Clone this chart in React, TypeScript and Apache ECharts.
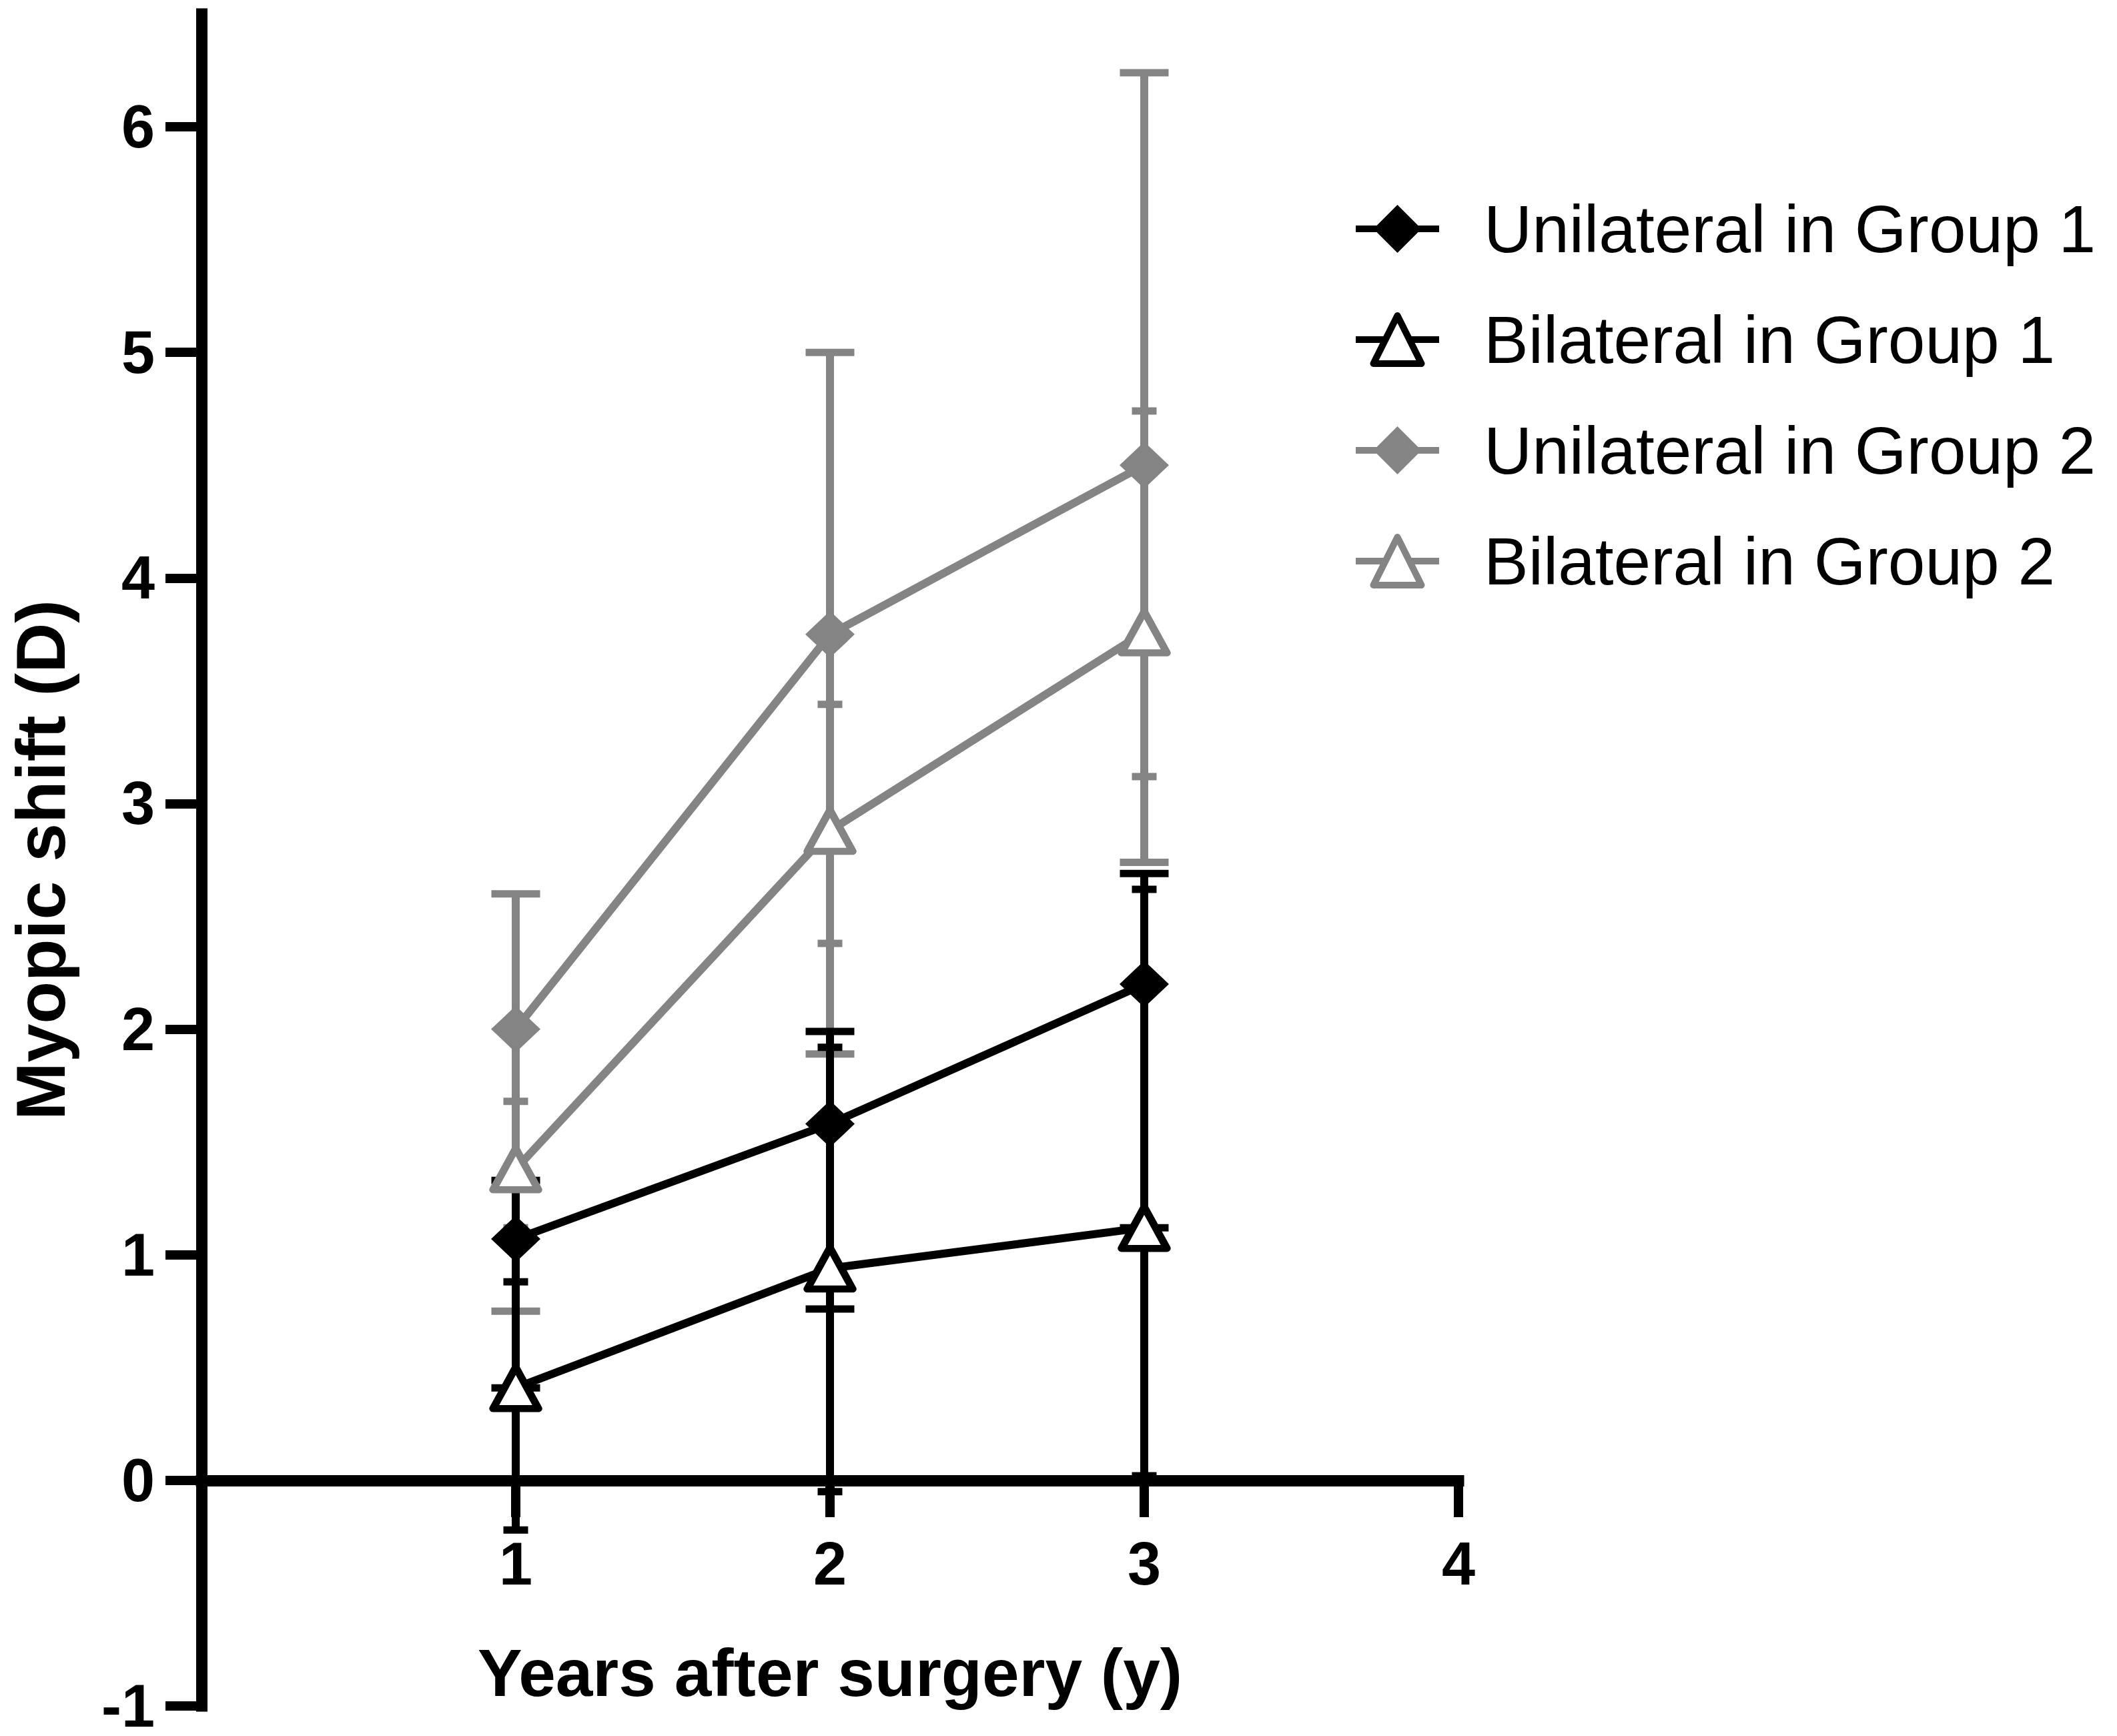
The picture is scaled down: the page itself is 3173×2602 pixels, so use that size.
import React, { useEffect, useRef } from 'react';
import * as echarts from 'echarts';

// ---- data ----
const years = [1, 2, 3];

const uniG1 = [1.07, 1.58, 2.2];
const uniG1Low = [0.41, 0.76, 1.12];
const uniG1High = [1.33, 1.99, 2.69];

const biG1 = [0.41, 0.94, 1.12];
const biG1Low = [-0.22, -0.05, 0.02];
const biG1High = [0.88, 1.92, 2.62];

const uniG2 = [2.0, 3.75, 4.5];
const uniG2Low = [0.75, 1.89, 2.74];
const uniG2High = [2.6, 5.0, 6.24];

const biG2 = [1.38, 2.88, 3.76];
const biG2Low = [1.12, 2.38, 3.12];
const biG2High = [1.68, 3.44, 4.74];

const yTicks = [-1, 0, 1, 2, 3, 4, 5, 6];
const xTicks = [1, 2, 3, 4];

const names = [
  'Unilateral in Group 1',
  'Bilateral in Group 1',
  'Unilateral in Group 2',
  'Bilateral in Group 2',
];

const BLACK = '#000000';
const GRAY = '#848484';
const FONT = '"Liberation Sans", Arial, Helvetica, sans-serif';

export default function App() {
  const ref = useRef<HTMLDivElement>(null);

  useEffect(() => {
    document.body.style.margin = '0';
    const chart = echarts.init(ref.current as HTMLDivElement, null, { renderer: 'svg' });

    const errSeries = (name: string, color: string, lows: number[], highs: number[], cap: number) => ({
      type: 'custom',
      name,
      silent: true,
      xAxisIndex: 0,
      yAxisIndex: 0,
      data: years.map((x, i) => [x, lows[i], highs[i]]),
      encode: { x: 0, y: [1, 2] },
      renderItem: (params: any, api: any) => {
        const x = api.value(0);
        const lo = api.coord([x, api.value(1)]);
        const hi = api.coord([x, api.value(2)]);
        const h = cap / 2;
        return {
          type: 'group',
          children: [
            { type: 'line', shape: { x1: lo[0], y1: lo[1], x2: hi[0], y2: hi[1] }, style: { stroke: color, lineWidth: 12 } },
            { type: 'line', shape: { x1: hi[0] - h, y1: hi[1], x2: hi[0] + h, y2: hi[1] }, style: { stroke: color, lineWidth: 11 } },
            { type: 'line', shape: { x1: lo[0] - h, y1: lo[1], x2: lo[0] + h, y2: lo[1] }, style: { stroke: color, lineWidth: 11 } },
          ],
        };
      },
    });

    const diamondSeries = (name: string, color: string, values: number[]) => ({
      type: 'line',
      name,
      silent: true,
      xAxisIndex: 0,
      yAxisIndex: 0,
      data: years.map((x, i) => [x, values[i]]),
      symbol: 'diamond',
      symbolSize: [74, 70],
      lineStyle: { color, width: 12 },
      itemStyle: { color, borderColor: color, borderWidth: 0 },
      emphasis: { disabled: true },
    });

    const triangleSeries = (name: string, color: string, values: number[]) => ({
      type: 'line',
      name,
      silent: true,
      xAxisIndex: 0,
      yAxisIndex: 0,
      data: years.map((x, i) => [x, values[i]]),
      symbol: 'triangle',
      symbolSize: [68, 62],
      lineStyle: { color, width: 12 },
      itemStyle: { color: '#ffffff', borderColor: color, borderWidth: 11, borderJoin: 'round' },
      emphasis: { disabled: true },
    });

    const legendItem = (name: string, triangle: boolean) => ({
      name,
      lineStyle: { width: 10 },
      itemStyle: triangle ? { borderWidth: 10, borderJoin: 'round' } : { borderWidth: 0 },
    });

    chart.setOption({
      animation: false,
      backgroundColor: '#ffffff',
      grid: [
        { left: 302, top: 21, width: 1884, height: 2536, containLabel: false, outerBoundsMode: 'none' },
        { left: 302, top: 21, width: 1884, height: 2198, containLabel: false, outerBoundsMode: 'none' },
      ],
      legend: {
        orient: 'vertical',
        left: 2022,
        top: 288,
        itemWidth: 125,
        itemHeight: 90,
        itemGap: 66,
        selectedMode: false,
        data: [
          legendItem(names[0], false),
          legendItem(names[1], true),
          legendItem(names[2], false),
          legendItem(names[3], true),
        ],
        textStyle: {
          fontSize: 100,
          fontFamily: FONT,
          color: BLACK,
          lineHeight: 100,
          padding: [0, 0, 0, 62],
        },
      },
      xAxis: [
        {
          gridIndex: 0,
          type: 'value',
          min: 0,
          max: 4,
          show: false,
        },
        {
          gridIndex: 1,
          type: 'value',
          position: 'bottom',
          min: 0,
          max: 4,
          axisLine: { show: true, onZero: false, lineStyle: { color: BLACK, width: 17, cap: 'square' } },
          axisTick: { show: true, length: 55, customValues: xTicks, lineStyle: { color: BLACK, width: 14 } },
          axisLabel: {
            customValues: xTicks,
            margin: 80,
            fontSize: 90,
            fontWeight: 'bold',
            fontFamily: FONT,
            color: BLACK,
          },
          splitLine: { show: false },
          name: 'Years after surgery (y)',
          nameLocation: 'middle',
          nameGap: 238,
          nameTextStyle: { fontSize: 100, fontWeight: 'bold', fontFamily: FONT, color: BLACK, lineHeight: 100 },
        },
      ],
      yAxis: [
        {
          gridIndex: 0,
          type: 'value',
          min: -1,
          max: 6.5,
          axisLine: { show: true, lineStyle: { color: BLACK, width: 17, cap: 'square' } },
          axisTick: { show: true, length: 54, customValues: yTicks, lineStyle: { color: BLACK, width: 14 } },
          axisLabel: {
            customValues: yTicks,
            margin: 70,
            fontSize: 90,
            lineHeight: 70,
            fontWeight: 'bold',
            fontFamily: FONT,
            color: BLACK,
          },
          splitLine: { show: false },
          name: 'Myopic shift (D)',
          nameLocation: 'middle',
          nameGap: 196,
          nameTextStyle: { fontSize: 104, fontWeight: 'bold', fontFamily: FONT, color: BLACK, lineHeight: 90 },
        },
        {
          gridIndex: 1,
          type: 'value',
          min: 0,
          max: 1,
          show: false,
        },
      ],
      series: [
        errSeries('Unilateral in Group 2 error', GRAY, uniG2Low, uniG2High, 73),
        errSeries('Bilateral in Group 2 error', GRAY, biG2Low, biG2High, 37),
        errSeries('Unilateral in Group 1 error', BLACK, uniG1Low, uniG1High, 73),
        errSeries('Bilateral in Group 1 error', BLACK, biG1Low, biG1High, 37),
        diamondSeries(names[2], GRAY, uniG2),
        triangleSeries(names[3], GRAY, biG2),
        diamondSeries(names[0], BLACK, uniG1),
        triangleSeries(names[1], BLACK, biG1),
      ],
    });

    return () => chart.dispose();
  }, []);

  return <div ref={ref} style={{ width: 3173, height: 2602 }} />;
}
